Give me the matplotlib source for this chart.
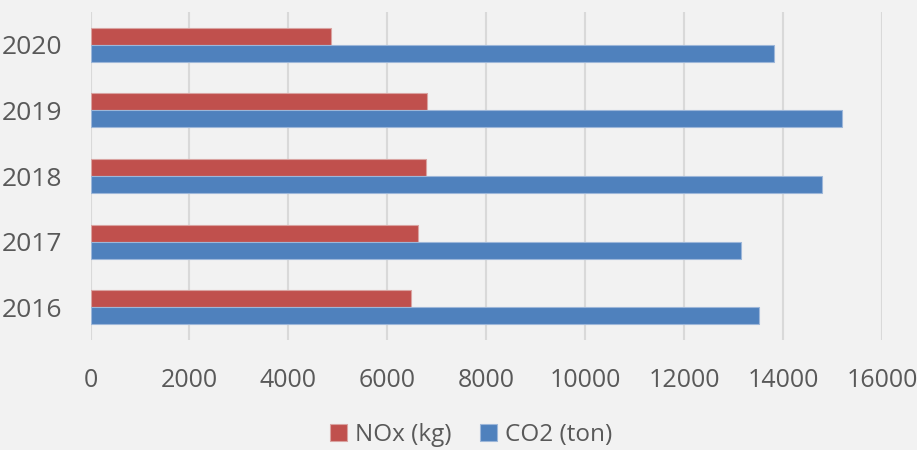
import numpy as np
import matplotlib.pyplot as plt

# Data
years = ['2016', '2017', '2018', '2019', '2020']
nox_kg = [6485, 6620, 6780, 6800, 4860]
co2_ton = [13510, 13150, 14790, 15190, 13820]
x_ticks = [0, 2000, 4000, 6000, 8000, 10000, 12000, 14000, 16000]

text_col = '#595959'
bg = '#F2F2F2'

plt.rcParams['font.family'] = ['Open Sans', 'DejaVu Sans']

fig = plt.figure(figsize=(9.17, 4.5), dpi=100, facecolor=bg)
ax = fig.add_axes([0.0987, 0.2444, 0.8631, 0.7289], facecolor=bg)

pos = np.arange(len(years))
h = 0.26
ax.barh(pos + h/2, nox_kg, height=h, color='#C0504D', edgecolor='#D9A3A1',
        linewidth=0.8, label='NOx (kg)', zorder=3)
ax.barh(pos - h/2, co2_ton, height=h, color='#4F81BD', edgecolor='#9DB7D9',
        linewidth=0.8, label='CO2 (ton)', zorder=3)

ax.set_xlim(0, 16000)
ax.set_ylim(-0.5, len(years) - 0.5)
ax.set_xticks(x_ticks)
ax.set_xticklabels([str(t) for t in x_ticks])
ax.set_yticks(pos)
ax.set_yticklabels(years)

ax.grid(axis='x', color='#D9D9D9', linewidth=1.5, zorder=0)
for s in ax.spines.values():
    s.set_visible(False)
ax.tick_params(axis='both', length=0, colors=text_col)
ax.tick_params(axis='x', pad=20, labelsize=18)
ax.tick_params(axis='y', pad=20, labelsize=19)

fig.legend(loc='center', bbox_to_anchor=(471/917, 1 - 435/450), ncol=2,
           frameon=False, fontsize=17.5, labelcolor=text_col,
           handlelength=0.7, handleheight=0.7, handletextpad=0.3,
           columnspacing=1.2)

fig.savefig('out.png', dpi=100, facecolor=bg)
